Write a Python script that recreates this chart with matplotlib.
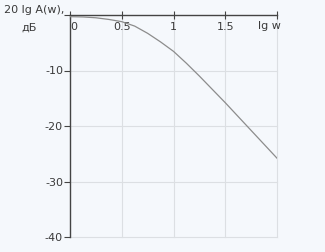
import matplotlib
matplotlib.use("Agg")
import matplotlib.pyplot as plt

lg_w = [0, 0.125, 0.25, 0.375, 0.5, 0.625, 0.75, 0.875, 1.0, 1.125, 1.25,
        1.375, 1.5, 1.625, 1.75, 1.875, 2.0]
L_db = [-0.3, -0.35, -0.5, -0.8, -1.2, -2.0, -3.3, -4.85, -6.55, -8.7, -11.0,
        -13.4, -15.8, -18.3, -20.8, -23.3, -25.8]
x_ticks = [0, 0.5, 1, 1.5]
x_ticklabels = ["0", "0.5", "1", "1.5"]
y_ticks = [0, -10, -20, -30, -40]
y_ticklabels = ["", "-10", "-20", "-30", "-40"]

bg = "#f5f8fc"
txt = "#3a3a3a"
plt.rcParams['font.family'] = ['DejaVu Sans']
fs = 8

fig = plt.figure(figsize=(3.25, 2.52), dpi=100, facecolor=bg)
ax = fig.add_axes([70/325, 1-237/252, 207/325, 222/252], facecolor=bg)
ax.set_xlim(0, 2)
ax.set_ylim(-40, 0)

# grid
for gx in [0.5, 1, 1.5, 2]:
    ax.plot([gx, gx], [-40, 0], color="#dcdfe3", lw=0.8, clip_on=False, zorder=1)
for gy in [-10, -20, -30, -40]:
    ax.plot([0, 2], [gy, gy], color="#dcdfe3", lw=0.8, clip_on=False, zorder=1)

ax.plot(lg_w, L_db, color="#8c8c8c", lw=0.9, zorder=3)

for s in ["right", "bottom"]:
    ax.spines[s].set_visible(False)
ax.spines["left"].set_color("#444444")
ax.spines["top"].set_color("#444444")
ax.spines["left"].set_linewidth(1.0)
ax.spines["top"].set_linewidth(1.0)

ax.xaxis.tick_top()
ax.set_xticks(x_ticks + [2])
ax.set_xticklabels(x_ticklabels + [""])
ax.tick_params(axis='x', direction='inout', length=6, width=0.8, colors="#444444",
               labelcolor=txt, labelsize=fs, pad=-15)
ax.get_xticklabels()[0].set_horizontalalignment('left')
ax.set_yticks(y_ticks)
ax.set_yticklabels(y_ticklabels)
ax.tick_params(axis='y', direction='out', length=4, width=0.8, colors="#444444",
               labelcolor=txt, labelsize=fs, pad=1)

ax.text(1.93, -1.9, "lg w", color=txt, fontsize=fs, ha='center', va='center')
fig.text(34/325, 1-10/252, "20 lg A(w),", color=txt, fontsize=fs, ha='center', va='center')
fig.text(29/325, 1-28/252, "дБ", color=txt, fontsize=fs, ha='center', va='center')

fig.savefig("out.png", dpi=100, facecolor=bg)
